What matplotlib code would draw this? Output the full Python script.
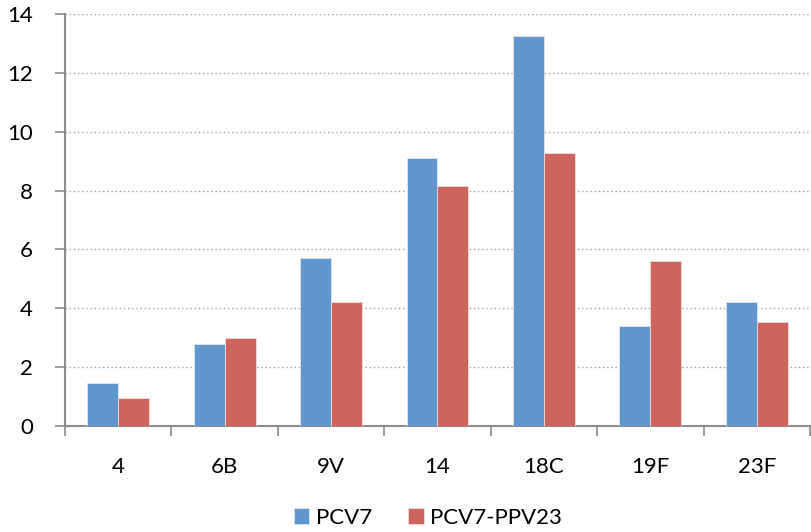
import numpy as np
import matplotlib.pyplot as plt

categories = ['4', '6B', '9V', '14', '18C', '19F', '23F']
pcv7 = [1.45, 2.78, 5.70, 9.10, 13.25, 3.40, 4.20]
pcv7_ppv23 = [0.95, 2.98, 4.20, 8.17, 9.28, 5.62, 3.52]

plt.rcParams['font.family'] = ['Lato', 'DejaVu Sans']

fig = plt.figure(figsize=(8.11, 5.32), dpi=100)
ax = fig.add_axes([65 / 811, 1 - 426 / 532, 745 / 811, 412 / 532])

x = np.arange(len(categories))
w = 0.29
ax.bar(x - w / 2, pcv7, w, color='#6096CA', edgecolor='#DCE6F2', linewidth=0.6,
       label='PCV7', zorder=3)
ax.bar(x + w / 2, pcv7_ppv23, w, color='#CD645E', edgecolor='#F2DCDB', linewidth=0.6,
       label='PCV7-PPV23', zorder=3)

ax.set_xlim(-0.5, len(categories) - 0.5)
ax.set_ylim(0, 14)
ax.set_yticks(range(0, 15, 2))
ax.yaxis.grid(True, linestyle=(0, (1, 2)), color='#A0A0A0', linewidth=1.0)
ax.set_axisbelow(True)

ax.set_xticks(x)
ax.set_xticklabels(categories)
ax.set_xticks(np.arange(-0.5, len(categories)), minor=True)
ax.tick_params(axis='x', which='major', length=0, labelsize=16, pad=22)
ax.tick_params(axis='x', which='minor', length=7, width=1.2, color='#8C8C8C', direction='out')
ax.tick_params(axis='y', length=7, width=1.2, color='#8C8C8C', labelsize=16, pad=16)

for s in ['top', 'right']:
    ax.spines[s].set_visible(False)
for s in ['left', 'bottom']:
    ax.spines[s].set_color('#8C8C8C')
    ax.spines[s].set_linewidth(1.5)

fig.legend(loc='center', bbox_to_anchor=(428 / 811, 1 - 518 / 532), ncol=2,
           frameon=False, fontsize=16, handlelength=0.7, handleheight=0.7,
           handletextpad=0.3, columnspacing=1.6)

fig.savefig('out.png', dpi=100)
